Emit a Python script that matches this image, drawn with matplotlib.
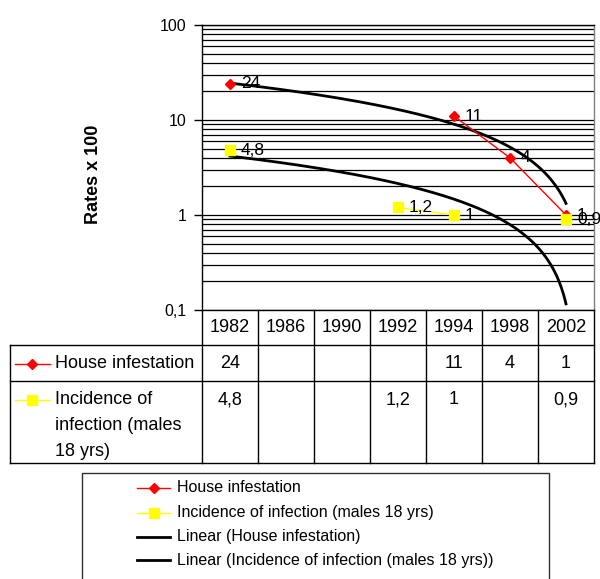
import numpy as np
import matplotlib
matplotlib.use("Agg")
import matplotlib.pyplot as plt
from matplotlib import transforms
from matplotlib.patches import Rectangle
from matplotlib.ticker import FixedLocator, FixedFormatter, LogLocator, NullFormatter

plt.rcParams['font.family'] = ['Liberation Sans', 'DejaVu Sans']

# ---- data ----
years = ['1982', '1986', '1990', '1992', '1994', '1998', '2002']
house = [24, None, None, None, 11, 4, 1]
incidence = [4.8, None, None, 1.2, 1, None, 0.9]
house_name = 'House infestation'
inc_name = 'Incidence of infection (males 18 yrs)'
inc_table_lines = ['Incidence of', 'infection (males', '18 yrs)']
trend_names = ['Linear (House infestation)', 'Linear (Incidence of infection (males 18 yrs))']
ytick_vals = [0.1, 1, 10, 100]
ytick_labels = ['0,1', '1', '10', '100']
ylabel = 'Rates x 100'


def fmt(v):
    return ('%g' % v).replace('.', ',')


W, H = 600, 579
fig = plt.figure(figsize=(6, 5.79), dpi=100)


def px(x0, y0, x1, y1):
    return [x0 / W, 1 - y1 / H, (x1 - x0) / W, (y1 - y0) / H]


ax = fig.add_axes(px(202, 25, 594, 310))
x = np.arange(len(years))
h = np.array([np.nan if v is None else v for v in house], float)
inc = np.array([np.nan if v is None else v for v in incidence], float)

# linear trendlines (Excel style, fitted on category index)
xs = np.linspace(0, len(years) - 1, 300)
for arr in (h, inc):
    m = ~np.isnan(arr)
    c = np.polyfit(x[m], arr[m], 1)
    ax.plot(xs, np.polyval(c, xs), color='black', lw=2, zorder=3)

ax.plot(x, h, color='red', lw=1, marker='D', ms=5, mfc='red', mec='red', zorder=4)
ax.plot(x, inc, color='yellow', lw=1, marker='s', ms=6.5, mfc='yellow', mec='yellow', zorder=4)

for arr in (h, inc):
    for i, v in enumerate(arr):
        if not np.isnan(v):
            ax.annotate(fmt(v), (i, v), xytext=(8, 0), textcoords='offset points',
                        va='center', ha='left', fontsize=12.5, zorder=5, annotation_clip=False)

ax.set_yscale('log')
ax.set_ylim(0.1, 100)
ax.set_xlim(-0.5, len(years) - 0.5)
ax.yaxis.set_major_locator(FixedLocator(ytick_vals))
ax.yaxis.set_major_formatter(FixedFormatter(ytick_labels))
ax.yaxis.set_minor_locator(LogLocator(base=10, subs=range(2, 10)))
ax.yaxis.set_minor_formatter(NullFormatter())
ax.set_xticks([])
ax.grid(which='both', axis='y', color='black', lw=0.9, zorder=1)
ax.set_axisbelow(True)
ax.tick_params(axis='y', which='major', length=6, width=1, direction='out', labelsize=11.5, pad=5)
ax.tick_params(axis='y', which='minor', length=0)
for s in ('left', 'bottom', 'top'):
    ax.spines[s].set_color('black')
    ax.spines[s].set_linewidth(1)
ax.spines['right'].set_color('#808080')
ax.spines['right'].set_linewidth(1)

fig.text(93 / W, 1 - 174 / H, ylabel, rotation=90, ha='center', va='center',
         fontsize=13, fontweight='bold')

# ---- overlay for data table & legend ----
ov = fig.add_axes([0, 0, 1, 1])
ov.set_xlim(0, W)
ov.set_ylim(H, 0)
ov.axis('off')
ov.patch.set_visible(False)
tr = transforms.blended_transform_factory(ax.transData, ov.transData)

for i in range(len(years) + 1):
    ov.plot([i - 0.5, i - 0.5], [310, 463], transform=tr, color='black', lw=1)
for yy in (345, 380.5, 463):
    ov.plot([10, 594], [yy, yy], color='black', lw=1)
ov.plot([10, 10], [345, 463], color='black', lw=1)

for i, yv in enumerate(years):
    ov.text(i, 327.5, yv, transform=tr, ha='center', va='center', fontsize=13)
for i, v in enumerate(house):
    if v is not None:
        ov.text(i, 364, fmt(v), transform=tr, ha='center', va='center', fontsize=13)
for i, v in enumerate(incidence):
    if v is not None:
        ov.text(i, 400, fmt(v), transform=tr, ha='center', va='center', fontsize=13)

# table row keys
ov.plot([15, 50], [364, 364], color='red', lw=1)
ov.plot([32], [364], marker='D', ms=5, color='red')
ov.text(55, 364, house_name, ha='left', va='center', fontsize=13)
ov.plot([15, 50], [400, 400], color='yellow', lw=1)
ov.plot([32], [400], marker='s', ms=6.5, color='yellow')
for k, line in enumerate(inc_table_lines):
    ov.text(55, 400 + 25.5 * k, line, ha='left', va='center', fontsize=13)

# legend box
ov.add_patch(Rectangle((82, 473), 549 - 82, 130, fill=False, edgecolor='#303030', lw=1, clip_on=False))
leg_rows = [488, 512.5, 536.5, 560]
ov.plot([137, 170], [leg_rows[0]] * 2, color='red', lw=1)
ov.plot([154], [leg_rows[0]], marker='D', ms=5, color='red')
ov.text(177, leg_rows[0], house_name, ha='left', va='center', fontsize=11.5)
ov.plot([137, 170], [leg_rows[1]] * 2, color='yellow', lw=1)
ov.plot([154], [leg_rows[1]], marker='s', ms=6.5, color='yellow')
ov.text(177, leg_rows[1], inc_name, ha='left', va='center', fontsize=11.5)
for k, name in enumerate(trend_names):
    ov.plot([137, 170], [leg_rows[2 + k]] * 2, color='black', lw=2)
    ov.text(177, leg_rows[2 + k], name, ha='left', va='center', fontsize=11.5)

fig.savefig('out.png', dpi=100)
